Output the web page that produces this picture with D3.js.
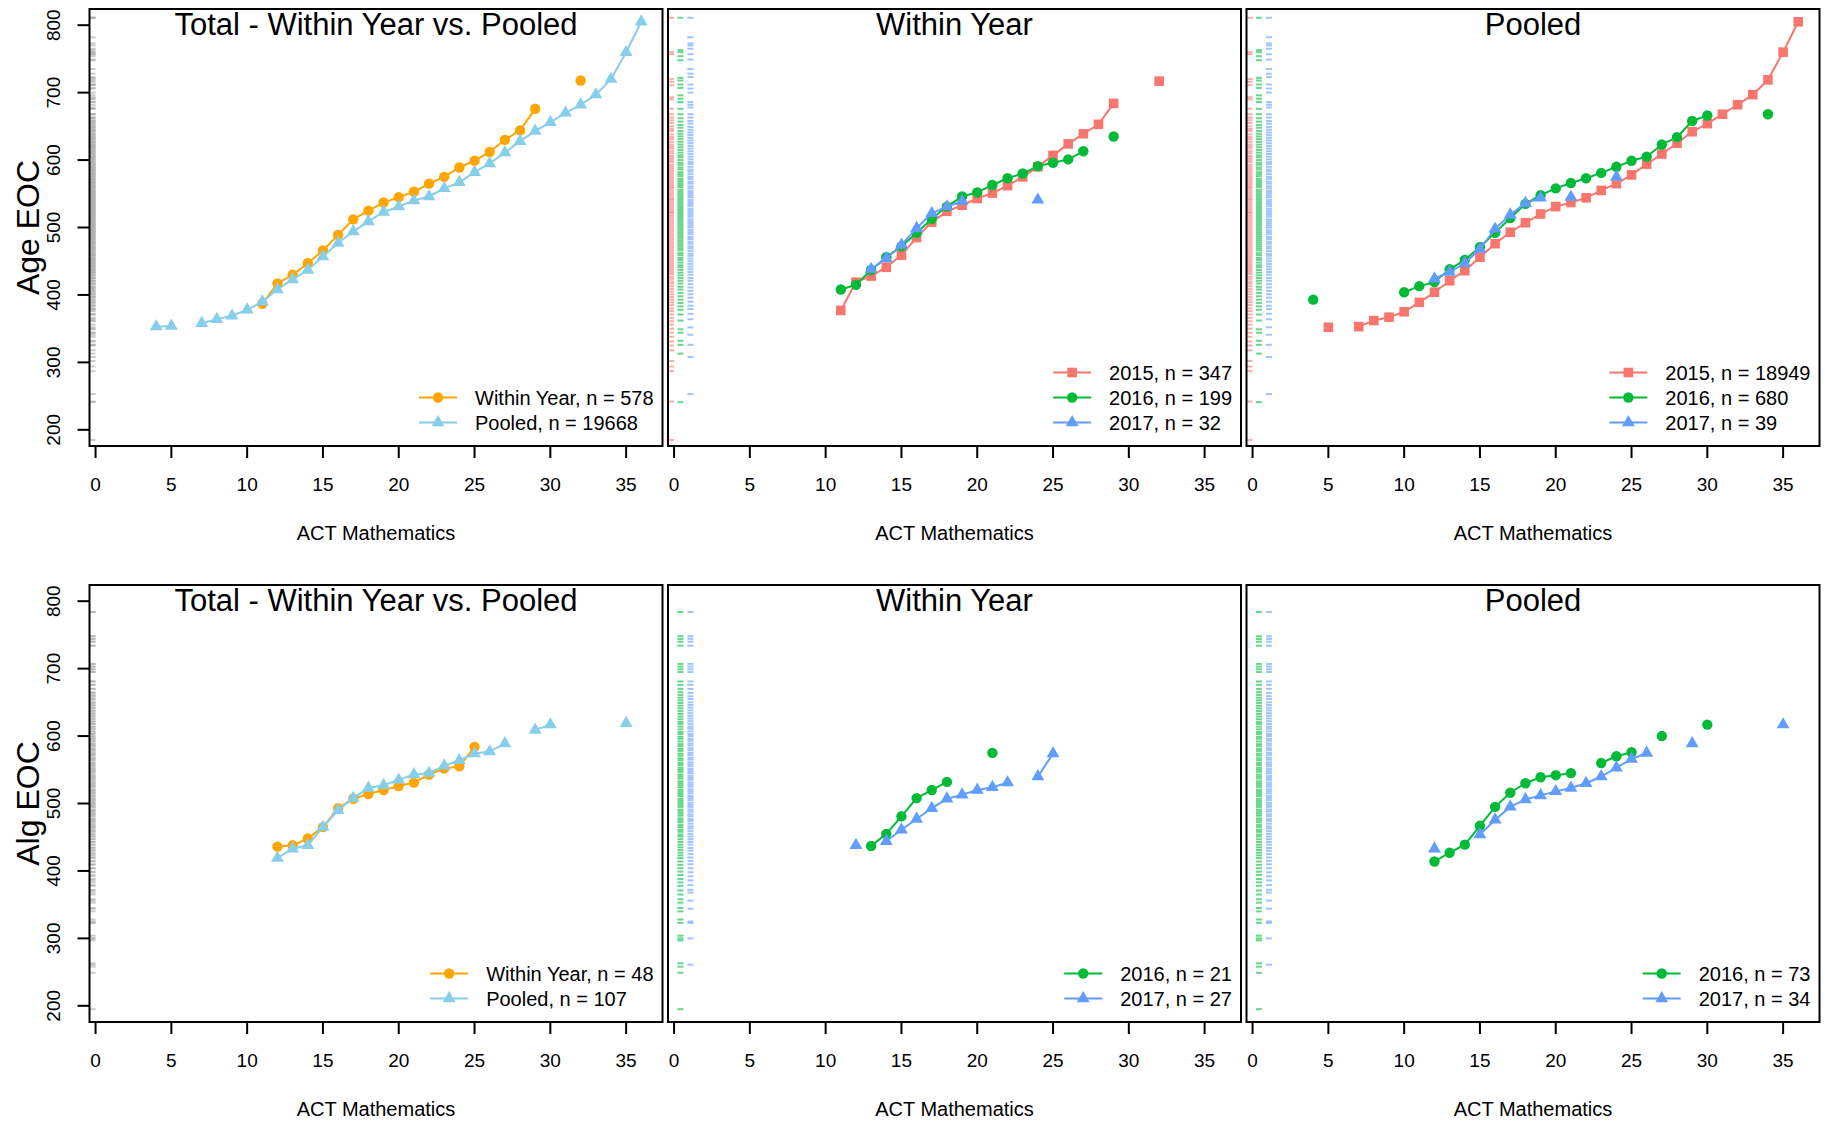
<!DOCTYPE html>
<html>
<head>
<meta charset="utf-8">
<title>ACT Mathematics vs. EOC</title>
<script src="https://cdn.jsdelivr.net/npm/d3@7"></script>
<style>
  body { margin: 0; background: #fff; }
  svg { font-family: Arial, "Liberation Sans", sans-serif; }
</style>
</head>
<body>
<svg id="chart" width="1825" height="1123"></svg>
<script>
// ---- data ----
var xTicks = [0, 5, 10, 15, 20, 25, 30, 35];
var yTicks = [200, 300, 400, 500, 600, 700, 800];

// Age EOC, total
var ageWithinScore = [11,12,13,14,15,16,17,18,19,20,21,22,23,24,25,26,27,28,29,30,31,32];
var ageWithinVal   = [387,417,430,447,466,489,512,525,537,545,553,565,575,589,599,612,630,644,676,null,null,718];
var agePooledScore = [4,5,6,7,8,9,10,11,12,13,14,15,16,17,18,19,20,21,22,23,24,25,26,27,28,29,30,31,32,33,34,35,36];
var agePooledVal   = [353,354,null,358,364,369,378,390,408,423,437,457,477,494,509,523,531,540,546,558,567,582,595,611,628,643,656,670,682,697,720,760,805];

// Age EOC, within year
var ageWy2015Score = [11,12,13,14,15,16,17,18,19,20,21,22,23,24,25,26,27,28,29,30,31,32];
var ageWy2015Val   = [377,419,428,441,459,485,508,524,533,543,551,562,575,590,607,624,639,653,684,null,null,717];
var ageWy2016Score = [11,12,13,14,15,16,17,18,19,20,21,22,23,24,25,26,27,28,29];
var ageWy2016Val   = [408,415,437,456,472,492,513,531,546,552,563,573,580,591,596,601,613,null,635];
var ageWy2017Score = [13,14,15,16,17,18,19,20,21,22,23,24];
var ageWy2017Val   = [438,454,474,499,521,531,539,null,null,null,null,541];

// Age EOC, pooled
var agePl2015Score = [5,6,7,8,9,10,11,12,13,14,15,16,17,18,19,20,21,22,23,24,25,26,27,28,29,30,31,32,33,34,35,36];
var agePl2015Val   = [352,null,353,362,367,375,389,404,421,436,456,476,493,507,520,531,537,544,555,565,578,594,609,625,642,654,668,682,697,719,760,805];
var agePl2016Score = [4,5,6,7,8,9,10,11,12,13,14,15,16,17,18,19,20,21,22,23,24,25,26,27,28,29,30,31,32,33,34];
var agePl2016Val   = [393,null,null,null,null,null,404,413,419,438,452,471,492,514,535,548,558,566,573,581,590,599,605,623,634,658,666,null,null,null,668];
var agePl2017Score = [12,13,14,15,16,17,18,19,20,21,22,23,24];
var agePl2017Val   = [424,434,447,468,498,519,536,544,null,545,null,null,575];

// Alg EOC, total
var algWithinScore = [12,13,14,15,16,17,18,19,20,21,22,23,24,25];
var algWithinVal   = [436,438,448,465,493,507,514,520,526,531,543,552,555,584];
var algPooledScore = [12,13,14,15,16,17,18,19,20,21,22,23,24,25,26,27,28,29,30,31,32,33,34,35];
var algPooledVal   = [419,433,438,465,490,508,523,527,535,543,545,556,564,574,577,589,null,609,617,null,null,null,null,619];

// Alg EOC, within year
var algWy2016Score = [13,14,15,16,17,18,19,20,21];
var algWy2016Val   = [437,455,481,508,520,532,null,null,575];
var algWy2017Score = [12,13,14,15,16,17,18,19,20,21,22,23,24,25];
var algWy2017Val   = [438,null,444,461,477,493,507,513,520,524,531,null,540,574];

// Alg EOC, pooled
var algPl2016Score = [12,13,14,15,16,17,18,19,20,21,22,23,24,25,26,27,28,29,30];
var algPl2016Val   = [414,427,439,467,495,516,530,539,542,545,null,560,570,576,null,600,null,null,617];
var algPl2017Score = [12,13,14,15,16,17,18,19,20,21,22,23,24,25,26,27,28,29,30,31,32,33,34,35];
var algPl2017Val   = [433,null,null,454,476,495,506,512,518,523,530,540,553,566,575,null,null,589,null,null,null,null,null,617];

// EOC scores shown as rugs
var rugAge2015 = [811,760,757,720,716,711,693,690,676,668,663,659,655,650,646,643,638,634,631,627,623,620,617,613,610,606,603,600,597,593,590,587,584,581,578,575,572,569,566,563,560,558,555,552,549,546,543,541,538,535,532,529,526,523,521,518,515,512,509,506,503,500,497,494,491,488,485,482,479,476,473,470,467,464,461,458,455,452,449,446,443,440,437,434,431,427,424,420,417,413,409,405,401,397,393,389,385,380,376,371,366,361,356,350,344,338,331,325,318,302,294,287,242,185];
var rugAge2016 = [811,763,760,754,748,722,718,712,707,696,691,686,676,668,662,657,652,648,643,639,635,631,627,623,619,615,611,607,604,600,596,593,589,586,582,579,576,572,569,566,563,560,556,553,550,547,544,541,538,535,532,529,526,523,520,517,514,511,508,505,502,499,496,493,490,487,484,481,478,475,472,469,466,462,459,455,452,448,444,441,437,433,429,425,421,417,412,408,403,398,393,388,383,378,371,362,349,344,332,326,313,241];
var rugAge2017 = [811,782,773,770,765,757,749,735,728,723,712,706,700,686,682,678,668,663,658,654,649,645,641,637,633,629,625,621,617,613,609,605,601,597,594,590,586,583,579,575,572,568,565,561,558,554,551,548,545,541,538,535,532,528,525,522,519,516,512,509,506,503,500,496,493,490,486,483,479,476,472,469,465,461,458,454,450,446,442,438,434,430,425,421,416,411,406,401,396,390,384,379,372,364,352,341,326,308,253];
var rugAlg2016 = [784,748,744,740,734,707,703,699,695,681,676,670,665,661,657,653,649,645,641,637,633,629,625,621,618,614,610,606,603,599,596,592,588,585,581,578,574,571,567,564,560,557,553,550,547,543,540,537,533,530,527,524,520,517,514,511,507,504,501,498,495,491,488,485,482,478,475,472,468,465,461,458,454,451,447,443,439,435,431,427,423,419,414,409,404,399,394,388,383,378,371,365,358,353,345,340,328,323,304,300,297,263,258,249,195];
var rugAlg2017 = [784,748,744,740,734,707,703,699,695,681,676,670,664,659,655,650,646,642,638,634,630,626,622,618,614,611,607,603,600,596,593,589,586,582,579,575,572,568,565,561,558,555,551,548,545,541,538,535,531,528,525,521,518,515,511,508,505,501,498,495,491,488,484,481,477,474,470,466,463,459,455,451,447,443,439,434,430,425,420,415,410,404,398,392,386,379,372,368,356,344,325,323,300,261];

// ---- styles ----
var col = { within: "#FFA500", pooled: "#87CEEB", y2015: "#F8766D", y2016: "#00BA38", y2017: "#619CFF", all: "#A8A8A8" };
var rugPos = { all: -0.2, y2015: -0.2, y2016: 0.42, y2017: 1.08 };

function s(name, c, shape, x, y) { return { name: name, color: col[c], shape: shape, x: x, y: y }; }
function r(vals, c) { return { vals: vals, color: col[c], pos: rugPos[c] }; }

var panels = [
  { row: 0, c: 0, title: "Total - Within Year vs. Pooled", ylab: "Age EOC",
    rugs: [r(rugAge2015.concat(rugAge2016, rugAge2017), "all")],
    series: [s("Within Year, n = 578", "within", "circle", ageWithinScore, ageWithinVal),
             s("Pooled, n = 19668", "pooled", "triangle", agePooledScore, agePooledVal)] },
  { row: 0, c: 1, title: "Within Year",
    rugs: [r(rugAge2015, "y2015"), r(rugAge2016, "y2016"), r(rugAge2017, "y2017")],
    series: [s("2015, n = 347", "y2015", "square", ageWy2015Score, ageWy2015Val),
             s("2016, n = 199", "y2016", "circle", ageWy2016Score, ageWy2016Val),
             s("2017, n = 32", "y2017", "triangle", ageWy2017Score, ageWy2017Val)] },
  { row: 0, c: 2, title: "Pooled",
    rugs: [r(rugAge2015, "y2015"), r(rugAge2016, "y2016"), r(rugAge2017, "y2017")],
    series: [s("2015, n = 18949", "y2015", "square", agePl2015Score, agePl2015Val),
             s("2016, n = 680", "y2016", "circle", agePl2016Score, agePl2016Val),
             s("2017, n = 39", "y2017", "triangle", agePl2017Score, agePl2017Val)] },
  { row: 1, c: 0, title: "Total - Within Year vs. Pooled", ylab: "Alg EOC",
    rugs: [r(rugAlg2016.concat(rugAlg2017), "all")],
    series: [s("Within Year, n = 48", "within", "circle", algWithinScore, algWithinVal),
             s("Pooled, n = 107", "pooled", "triangle", algPooledScore, algPooledVal)] },
  { row: 1, c: 1, title: "Within Year",
    rugs: [r(rugAlg2016, "y2016"), r(rugAlg2017, "y2017")],
    series: [s("2016, n = 21", "y2016", "circle", algWy2016Score, algWy2016Val),
             s("2017, n = 27", "y2017", "triangle", algWy2017Score, algWy2017Val)] },
  { row: 1, c: 2, title: "Pooled",
    rugs: [r(rugAlg2016, "y2016"), r(rugAlg2017, "y2017")],
    series: [s("2016, n = 73", "y2016", "circle", algPl2016Score, algPl2016Val),
             s("2017, n = 34", "y2017", "triangle", algPl2017Score, algPl2017Val)] }
];

// ---- layout ----
var lefts = [89.5, 668, 1246.5], tops = [9, 585];
var plotW = 573, plotH = 437;

var svg = d3.select("#chart");

var symbolOf = { circle: d3.symbolCircle, square: d3.symbolSquare, triangle: d3.symbolTriangle };
var sizeOf = { circle: 85, square: 92, triangle: 72 };

panels.forEach(function (p) {
  var left = lefts[p.c], top = tops[p.row];
  var x = d3.scaleLinear().domain([-0.4, 37.4]).range([left, left + plotW]);
  var y = d3.scaleLinear().domain([176, 824]).range([top + plotH, top]);
  var g = svg.append("g");

  // rugs
  p.rugs.forEach(function (rg) {
    g.selectAll(null).data(rg.vals).enter().append("line")
      .attr("x1", x(rg.pos) - 3).attr("x2", x(rg.pos) + 3)
      .attr("y1", function (d) { return y(d); }).attr("y2", function (d) { return y(d); })
      .attr("stroke", rg.color).attr("stroke-width", 2).attr("stroke-opacity", 0.6);
  });

  // series
  p.series.forEach(function (se) {
    var pts = se.x.map(function (v, i) { return [v, se.y[i]]; });
    var line = d3.line()
      .defined(function (d) { return d[1] != null; })
      .x(function (d) { return x(d[0]); })
      .y(function (d) { return y(d[1]); });
    g.append("path").attr("d", line(pts))
      .attr("fill", "none").attr("stroke", se.color).attr("stroke-width", 2);
    g.selectAll(null).data(pts.filter(function (d) { return d[1] != null; })).enter()
      .append("path")
      .attr("d", d3.symbol().type(symbolOf[se.shape]).size(sizeOf[se.shape]))
      .attr("transform", function (d) { return "translate(" + x(d[0]) + "," + y(d[1]) + ")"; })
      .attr("fill", se.color);
  });

  // box
  g.append("rect").attr("x", left).attr("y", top).attr("width", plotW).attr("height", plotH)
    .attr("fill", "none").attr("stroke", "#000").attr("stroke-width", 2);

  // title
  g.append("text").attr("x", left + plotW / 2).attr("y", top + 26)
    .attr("text-anchor", "middle").attr("font-size", 31).text(p.title);

  // x axis
  var bottom = top + plotH;
  xTicks.forEach(function (t) {
    g.append("line").attr("x1", x(t)).attr("x2", x(t)).attr("y1", bottom + 1).attr("y2", bottom + 12)
      .attr("stroke", "#000").attr("stroke-width", 2);
    g.append("text").attr("x", x(t)).attr("y", bottom + 45).attr("text-anchor", "middle")
      .attr("font-size", 19).text(t);
  });
  g.append("text").attr("x", left + plotW / 2).attr("y", bottom + 94).attr("text-anchor", "middle")
    .attr("font-size", 20).text("ACT Mathematics");

  // y axis on first column only
  if (p.c == 0) {
    yTicks.forEach(function (t) {
      g.append("line").attr("x1", left - 12).attr("x2", left).attr("y1", y(t)).attr("y2", y(t))
        .attr("stroke", "#000").attr("stroke-width", 2);
      g.append("text").attr("transform", "translate(" + (left - 29.5) + "," + y(t) + ") rotate(-90)")
        .attr("text-anchor", "middle").attr("font-size", 19).text(t);
    });
    g.append("text").attr("transform", "translate(38.5," + (top + plotH / 2) + ") rotate(-90)")
      .attr("text-anchor", "middle").attr("font-size", 32).text(p.ylab);
  }

  // legend, bottom right
  var leg = g.append("g");
  var texts = [];
  var n = p.series.length;
  p.series.forEach(function (se, i) {
    var ty = bottom - 23.5 - (n - 1 - i) * 25;
    texts.push(leg.append("text").attr("y", ty).attr("dominant-baseline", "central")
      .attr("font-size", 20).text(se.name));
  });
  var maxW = d3.max(texts, function (t) { return t.node().getComputedTextLength(); });
  var tx = left + plotW - 9 - maxW;
  p.series.forEach(function (se, i) {
    var ty = bottom - 23.5 - (n - 1 - i) * 25;
    texts[i].attr("x", tx);
    leg.append("line").attr("x1", tx - 56).attr("x2", tx - 18).attr("y1", ty).attr("y2", ty)
      .attr("stroke", se.color).attr("stroke-width", 2);
    leg.append("path")
      .attr("d", d3.symbol().type(symbolOf[se.shape]).size(sizeOf[se.shape]))
      .attr("transform", "translate(" + (tx - 37) + "," + ty + ")")
      .attr("fill", se.color);
  });
});
</script>
</body>
</html>
